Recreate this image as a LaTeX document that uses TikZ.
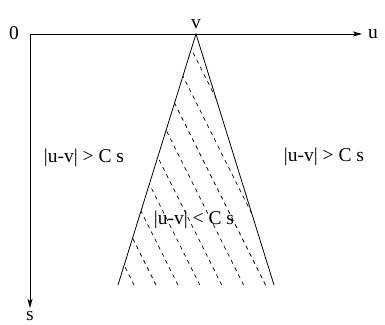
\documentclass[tikz,border=0pt]{standalone}
\usepackage{fontspec}
\setmainfont{Liberation Serif}
\usetikzlibrary{arrows.meta,positioning}

\tikzset{
  axis/.style={line width=0.8pt,-{Stealth[length=9pt,width=5pt,inset=2pt]}},
  conedge/.style={line width=0.8pt},
  hatchline/.style={line width=0.7pt,dash pattern=on 4pt off 4pt},
  lbl/.style={inner sep=0pt,font=\fontsize{19.5}{22}\selectfont}
}

\begin{document}
\begin{tikzpicture}[x=1pt,y=1pt]
\useasboundingbox (0,0) rectangle (385,324);
% axes
\coordinate (O) at (30,290);
\coordinate (uend) at (362,290);
\coordinate (send) at (30,16);
\draw[axis] (O) -- (uend);
\draw[axis] (O) -- (send);
\node[lbl] (zero) at (14,291) {0};
\node[lbl,right=6pt of uend] (ulbl) {u};
\node[lbl,below=3pt of send] (slbl) {s};
% cone
\coordinate (apex) at (196,290);
\coordinate (bl) at (118,39);
\coordinate (br) at (274,39);
\node[lbl,above=5pt of apex] (vlbl) {v};
\draw[conedge] (bl) -- (apex) -- (br);
\begin{scope}
  \clip (bl) -- (apex) -- (br) -- cycle;
  \foreach \d in {328.8,306.9,285,263.1,241.2,219.3,197.4,175.5,153.6} {
    \draw[hatchline] (\d-150,300) -- (\d-10,20);
  }
\end{scope}
% regions
\node[lbl] (outl) at (84,166) {|u-v| > C s};
\node[lbl] (outr) at (324,167) {|u-v| > C s};
\node[lbl] (inside) at (194,104) {|u-v| < C s};
\end{tikzpicture}
\end{document}
